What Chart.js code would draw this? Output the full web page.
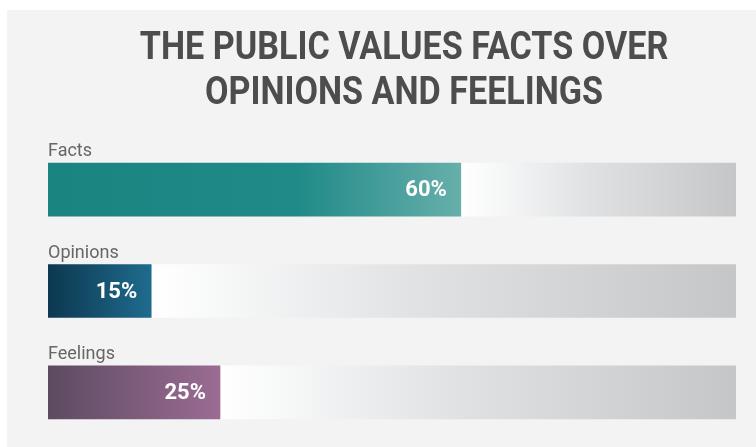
<!DOCTYPE html>
<html>
<head>
<meta charset="utf-8">
<script src="https://cdn.jsdelivr.net/npm/chart.js@4"></script>
<style>
  body { margin: 0; background: #ffffff; }
  #panel { position: absolute; left: 7px; top: 10px; width: 749px; height: 437px; background: #f3f3f3; }
</style>
</head>
<body>
<div id="panel"><canvas id="factsChart" width="749" height="437"></canvas></div>
<script>
// Data
const categories = ['Facts', 'Opinions', 'Feelings'];
const shares = [60, 15, 25];
const remainder = shares.map(v => 100 - v);
const titleLines = ['THE PUBLIC VALUES FACTS OVER', 'OPINIONS AND FEELINGS'];

// gradient stops for each bar, dark on the left, lighter at the bar end
const barStops = [
  [[0, '#1a8481'], [0.6, '#1f8a87'], [1, '#67afab']],
  [[0, '#0c3850'], [1, '#1f6b8e']],
  [[0, '#5d4a61'], [1, '#9b6c94']]
];

function valueGradient(ctx) {
  const chart = ctx.chart;
  const x = chart.scales.x;
  if (!chart.chartArea) return '#1a8481';
  const i = ctx.dataIndex;
  const g = chart.ctx.createLinearGradient(x.getPixelForValue(0), 0, x.getPixelForValue(shares[i]), 0);
  barStops[i].forEach(s => g.addColorStop(s[0], s[1]));
  return g;
}

function trackGradient(ctx) {
  const chart = ctx.chart;
  const x = chart.scales.x;
  if (!chart.chartArea) return '#dddddd';
  const i = ctx.dataIndex;
  const g = chart.ctx.createLinearGradient(x.getPixelForValue(shares[i]), 0, x.getPixelForValue(100), 0);
  g.addColorStop(0, '#ffffff');
  g.addColorStop(0.12, '#f7f8f8');
  g.addColorStop(0.45, '#e0e2e4');
  g.addColorStop(1, '#c5c6c8');
  return g;
}

// title, category names and value labels
const textPlugin = {
  id: 'textPlugin',
  afterDatasetsDraw(chart) {
    const c = chart.ctx;
    c.save();
    // condensed bold title
    c.fillStyle = '#4d4d4d';
    c.font = 'bold 39px Roboto';
    c.textAlign = 'center';
    c.textBaseline = 'alphabetic';
    const sx = 0.875;
    titleLines.forEach((line, k) => {
      c.save();
      c.translate(397, 49 + k * 45);
      c.scale(sx, 1);
      c.fillText(line, 0, 0);
      c.restore();
    });

    const meta = chart.getDatasetMeta(0);
    meta.data.forEach((bar, i) => {
      const top = bar.y - bar.height / 2;
      c.fillStyle = '#666666';
      c.font = '18px Roboto';
      c.textAlign = 'left';
      c.textBaseline = 'alphabetic';
      c.fillText(categories[i], bar.base, top - 7);

      c.fillStyle = '#ffffff';
      c.font = 'bold 22px Roboto';
      c.textAlign = 'right';
      c.textBaseline = 'middle';
      c.fillText(shares[i] + '%', bar.x - 14, bar.y + 1);
    });
    c.restore();
  }
};

const ctx = document.getElementById('factsChart').getContext('2d');

new Chart(ctx, {
  type: 'bar',
  data: {
    labels: categories,
    datasets: [
      {
        data: shares,
        backgroundColor: valueGradient,
        borderWidth: 0,
        barThickness: 53
      },
      {
        data: remainder,
        backgroundColor: trackGradient,
        borderWidth: 0,
        barThickness: 53
      }
    ]
  },
  options: {
    indexAxis: 'y',
    responsive: false,
    animation: false,
    layout: { padding: { left: 41, right: 20, top: 129, bottom: 4 } },
    scales: {
      x: { stacked: true, min: 0, max: 100, display: false },
      y: { stacked: true, display: false }
    },
    plugins: {
      legend: { display: false },
      tooltip: { enabled: false }
    }
  },
  plugins: [textPlugin]
});
</script>
</body>
</html>
